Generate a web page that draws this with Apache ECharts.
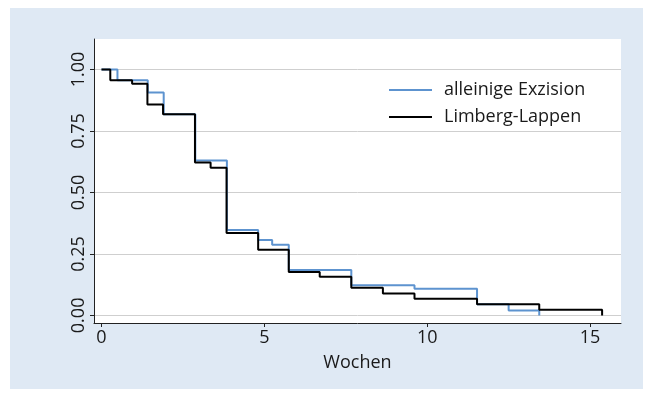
<!DOCTYPE html>
<html>
<head>
<meta charset="utf-8">
<script src="https://cdn.jsdelivr.net/npm/echarts@6/dist/echarts.min.js"></script>
<style>
html,body{margin:0;padding:0;background:#ffffff;}
#chart{width:653px;height:398px;}
</style>
</head>
<body>
<div id="chart"></div>
<script>
// Data (weeks, survival fraction)
const blueTimes = [0, 0.49, 1.42, 1.91, 2.88, 3.85, 4.81, 5.24, 5.75, 7.67, 9.61, 11.53, 12.50, 13.44];
const blueSurv  = [1.0, 0.956, 0.906, 0.818, 0.630, 0.347, 0.307, 0.287, 0.185, 0.123, 0.108, 0.045, 0.020, 0];
const blackTimes = [0, 0.27, 0.94, 1.41, 1.89, 2.87, 3.35, 3.84, 4.81, 5.75, 6.70, 7.67, 8.64, 9.61, 11.53, 13.44, 15.37];
const blackSurv  = [1.0, 0.956, 0.942, 0.858, 0.818, 0.622, 0.600, 0.335, 0.267, 0.176, 0.157, 0.112, 0.089, 0.068, 0.045, 0.023, 0];
const seriesNames = ['alleinige Exzision', 'Limberg-Lappen'];
const xTicks = [0, 5, 10, 15];
const yTicks = [0, 0.25, 0.5, 0.75, 1.0];
const xTitle = 'Wochen';

const FONT = '"Open Sans", "Noto Sans", sans-serif';
const chart = echarts.init(document.getElementById('chart'), null, {renderer: 'canvas'});
const pairs = (xs, ys) => xs.map((x, i) => [x, ys[i]]);

chart.setOption({
  animation: false,
  backgroundColor: '#ffffff',
  graphic: [{
    type: 'rect', z: -100, silent: true,
    shape: {x: 10, y: 8, width: 633, height: 381},
    style: {fill: '#dfe9f4'}
  }],
  grid: {left: 94, right: 32, top: 39, bottom: 75, show: true, backgroundColor: '#ffffff', borderWidth: 0},
  legend: {
    orient: 'vertical', left: 384, top: 75,
    itemWidth: 43, itemHeight: 2, itemGap: 7, icon: 'rect',
    textStyle: {fontFamily: FONT, fontSize: 18, color: '#1a1a1a', lineHeight: 20, padding: [0, 0, 0, 7]},
    data: seriesNames
  },
  xAxis: {
    type: 'value', min: -0.23, max: 15.95,
    name: xTitle, nameLocation: 'middle', nameGap: 31,
    nameTextStyle: {fontFamily: FONT, fontSize: 18, color: '#1a1a1a'},
    axisLine: {show: true, onZero: false, lineStyle: {color: '#222', width: 1}},
    axisTick: {show: true, length: 4, customValues: xTicks, lineStyle: {color: '#222'}},
    axisLabel: {customValues: xTicks, margin: 6, fontFamily: FONT, fontSize: 18, color: '#1a1a1a'},
    splitLine: {show: false}
  },
  yAxis: {
    type: 'value', min: -0.031, max: 1.124,
    axisLine: {show: true, onZero: false, lineStyle: {color: '#222', width: 1}},
    axisTick: {show: true, length: 4, customValues: yTicks, lineStyle: {color: '#222'}},
    axisLabel: {customValues: yTicks, rotate: 90, margin: 6, fontFamily: FONT, fontSize: 18, color: '#1a1a1a',
      formatter: v => v.toFixed(2)},
    splitLine: {show: true, lineStyle: {color: '#cfcfcf', width: 1}}
  },
  series: [
    {name: seriesNames[0], type: 'line', step: 'end', showSymbol: false, symbol: 'none',
     data: pairs(blueTimes, blueSurv), color: '#5d93cf', lineStyle: {color: '#5d93cf', width: 2}, z: 2},
    {name: seriesNames[1], type: 'line', step: 'end', showSymbol: false, symbol: 'none',
     data: pairs(blackTimes, blackSurv), color: '#000000', lineStyle: {color: '#000000', width: 2}, z: 3}
  ]
});
</script>
</body>
</html>
